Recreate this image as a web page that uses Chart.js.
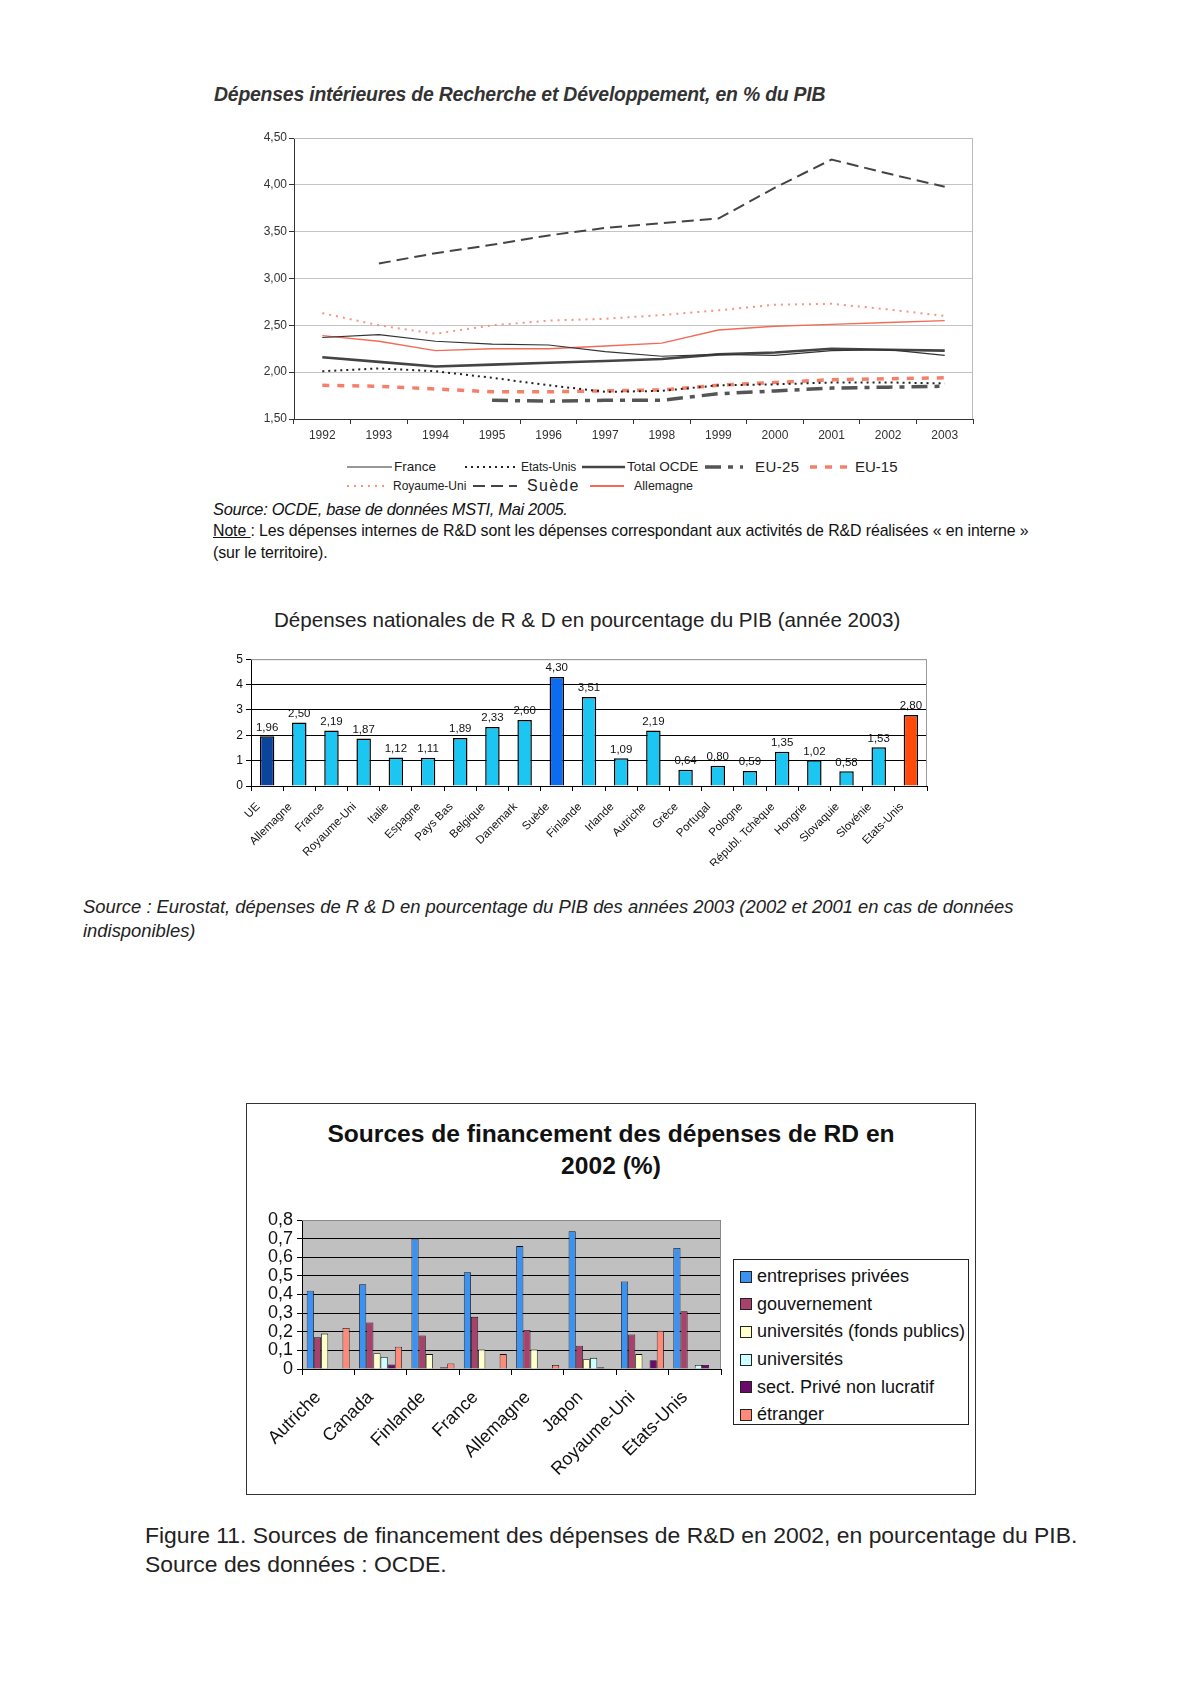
<!DOCTYPE html>
<html>
<head>
<meta charset="utf-8">
<script src="https://cdn.jsdelivr.net/npm/chart.js@4.4.1/dist/chart.umd.min.js"></script>
<style>
body { margin: 0; background: #fff; width: 1191px; height: 1684px; position: relative; font-family: "Liberation Sans", Arial, sans-serif; color: #111; }
.abs { position: absolute; white-space: nowrap; }
.box { position: absolute; }
.lg-sample { position: absolute; }
.lg-text { position: absolute; white-space: nowrap; color: #222; line-height: 18px; }
#legend3 { position: absolute; left: 733px; top: 1259px; width: 236px; height: 166px; border: 1px solid #222; font-size: 18px; color: #111; box-sizing: border-box; padding-top: 3px; }
#legend3 div { height: 27.6px; display: flex; align-items: center; padding-left: 6px; }
#legend3 span.sq { width: 10px; height: 10px; border: 1px solid #222; margin-right: 5px; display: inline-block; }
#frame3 { position: absolute; left: 246px; top: 1103px; width: 728px; height: 390px; border: 1px solid #333; }
</style>
</head>
<body>

<div class="abs" style="left:214px; top:82px; line-height:24px; font-size:19.4px; font-style:italic; font-weight:bold; color:#333; letter-spacing:-0.2px;">Dépenses intérieures de Recherche et Développement, en % du PIB</div>
<div class="box" style="left:244px; top:128px; width:740px; height:321px;"><canvas id="chart1"></canvas></div>
<div id="legend1"></div>
<div class="abs" style="left:213px; top:500px; line-height:18px; font-size:16.4px; font-style:italic; letter-spacing:-0.3px;">Source: OCDE, base de données MSTI, Mai 2005.</div>
<div class="abs" style="left:213px; top:522px; line-height:18px; font-size:15.9px; letter-spacing:-0.1px;"><u>Note </u>: Les dépenses internes de R&amp;D sont les dépenses correspondant aux activités de R&amp;D réalisées « en interne »</div>
<div class="abs" style="left:213px; top:544px; line-height:18px; font-size:15.9px; letter-spacing:-0.1px;">(sur le territoire).</div>

<div class="abs" style="left:274px; top:607px; line-height:26px; font-size:20.6px; color:#222;">Dépenses nationales de R &amp; D en pourcentage du PIB (année 2003)</div>
<div class="box" style="left:221px; top:649px; width:716px; height:217px;"><canvas id="chart2"></canvas></div>
<div class="abs" style="left:83px; top:896px; line-height:22px; font-size:18.4px; font-style:italic; color:#222;">Source : Eurostat, dépenses de R &amp; D en pourcentage du PIB des années 2003 (2002 et 2001 en cas de données</div>
<div class="abs" style="left:83px; top:920px; line-height:22px; font-size:18.4px; font-style:italic; color:#222;">indisponibles)</div>

<div id="frame3"></div>
<div class="abs" style="left:246px; width:730px; top:1118px; line-height:32px; font-size:24.6px; font-weight:bold; text-align:center; color:#111;">Sources de financement des dépenses de RD en<br>2002 (%)</div>
<div class="box" style="left:257px; top:1200px; width:474px; height:290px;"><canvas id="chart3"></canvas></div>
<div id="legend3"></div>

<div class="abs" style="left:145px; top:1521px; line-height:29px; font-size:22.9px; color:#222;">Figure 11. Sources de financement des dépenses de R&amp;D en 2002, en pourcentage du PIB.<br>Source des données : OCDE.</div>

<script>
// --- graphique 1 : DIRD en % du PIB
const years = ["1992", "1993", "1994", "1995", "1996", "1997", "1998", "1999", "2000", "2001", "2002", "2003"];
const france = [2.37, 2.40, 2.33, 2.30, 2.29, 2.22, 2.17, 2.19, 2.18, 2.23, 2.24, 2.18];
const etatsUnis = [2.01, 2.04, 2.01, 1.94, 1.86, 1.79, 1.80, 1.86, 1.87, 1.89, 1.89, 1.88];
const totalOcde = [2.16, 2.11, 2.06, 2.08, 2.10, 2.12, 2.14, 2.19, 2.21, 2.25, 2.24, 2.23];
const eu25 = [null, null, null, 1.70, 1.69, 1.70, 1.70, 1.77, 1.80, 1.83, 1.84, 1.85];
const eu15 = [1.86, 1.85, 1.82, 1.79, 1.79, 1.80, 1.81, 1.86, 1.89, 1.92, 1.93, 1.94];
const royaumeUni = [2.63, 2.50, 2.41, 2.50, 2.55, 2.57, 2.61, 2.66, 2.72, 2.73, 2.67, 2.60];
const suede = [null, 3.16, 3.27, 3.36, 3.46, 3.54, 3.59, 3.64, 3.97, 4.27, 4.12, 3.98];
const allemagne = [2.39, 2.33, 2.23, 2.25, 2.25, 2.28, 2.31, 2.45, 2.49, 2.51, 2.53, 2.55];

// --- graphique 2 : depenses nationales 2003
const pays2003 = ["UE", "Allemagne", "France", "Royaume-Uni", "Italie", "Espagne", "Pays Bas", "Belgique", "Danemark", "Suède", "Finlande", "Irlande", "Autriche", "Grèce", "Portugal", "Pologne", "Républ. Tchèque", "Hongrie", "Slovaquie", "Slovénie", "Etats-Unis"];
const depenses2003 = [1.96, 2.50, 2.19, 1.87, 1.12, 1.11, 1.89, 2.33, 2.60, 4.30, 3.51, 1.09, 2.19, 0.64, 0.80, 0.59, 1.35, 1.02, 0.58, 1.53, 2.80];

// --- graphique 3 : sources de financement 2002
const paysFin = ["Autriche", "Canada", "Finlande", "France", "Allemagne", "Japon", "Royaume-Uni", "Etats-Unis"];
const entreprises = [0.42, 0.455, 0.70, 0.52, 0.66, 0.74, 0.47, 0.65];
const gouvernement = [0.17, 0.25, 0.18, 0.28, 0.21, 0.125, 0.185, 0.31];
const univPublics = [0.19, 0.085, 0.08, 0.105, 0.105, 0.053, 0.08, 0];
const universites = [0, 0.065, 0, 0.003, 0.002, 0.06, 0.005, 0.022];
const prive = [0, 0.024, 0.01, 0.003, 0.002, 0.01, 0.047, 0.022];
const etranger = [0.22, 0.12, 0.03, 0.08, 0.022, 0.004, 0.205, 0];

Chart.defaults.font.family = "'Liberation Sans', Arial, sans-serif";
Chart.defaults.color = "#222";
Chart.defaults.animation = false;
Chart.defaults.plugins.legend.display = false;
Chart.defaults.plugins.tooltip.enabled = false;

const comma = (v, d) => v.toFixed(d).replace(".", ",");

// grey top/right edge of the plot area
const plotFrame = {
    id: "plotFrame",
    afterDraw(chart, args, opts) {
        const ctx = chart.ctx, a = chart.chartArea;
        ctx.save();
        ctx.strokeStyle = opts.color || "#aaa";
        ctx.lineWidth = 1;
        ctx.beginPath();
        ctx.moveTo(a.left, a.top + 0.5);
        ctx.lineTo(a.right - 0.5, a.top + 0.5);
        ctx.lineTo(a.right - 0.5, a.bottom);
        ctx.stroke();
        ctx.restore();
    }
};

const plotBg = {
    id: "plotBg",
    beforeDraw(chart, args, opts) {
        const ctx = chart.ctx, a = chart.chartArea;
        ctx.save();
        ctx.fillStyle = opts.color;
        ctx.fillRect(a.left, a.top, a.right - a.left, a.bottom - a.top);
        ctx.restore();
    }
};

const barValues = {
    id: "barValues",
    afterDatasetsDraw(chart) {
        const ctx = chart.ctx;
        const ds = chart.data.datasets[0];
        ctx.save();
        ctx.font = "11.5px 'Liberation Sans', Arial";
        ctx.fillStyle = "#111";
        ctx.textAlign = "center";
        ctx.textBaseline = "bottom";
        chart.getDatasetMeta(0).data.forEach((bar, i) => {
            ctx.fillText(comma(ds.data[i], 2), bar.x, bar.y - 3);
        });
        ctx.restore();
    }
};

// chart 1 (lx/sw/tx : legend sample start, sample width, text start)
const series1 = [
    { label: "France", data: france, color: "#333", width: 1.2, dash: [], row: 0, lx: 347, sw: 45, tx: 394, fs: 13.5 },
    { label: "Etats-Unis", data: etatsUnis, color: "#222", width: 2, dash: [2, 4], row: 0, lx: 465, sw: 52, tx: 521, fs: 12 },
    { label: "Total OCDE", data: totalOcde, color: "#444", width: 2.6, dash: [], row: 0, lx: 582, sw: 43, tx: 627, fs: 13.5 },
    { label: "EU-25", data: eu25, color: "#555", width: 3.5, dash: [16, 7, 5, 7], row: 0, lx: 705, sw: 38, tx: 755, fs: 15, ls: 0.4 },
    { label: "EU-15", data: eu15, color: "#f4806c", width: 3.5, dash: [7, 8], row: 0, lx: 810, sw: 42, tx: 855, fs: 15, ls: 0 },
    { label: "Royaume-Uni", data: royaumeUni, color: "#f59484", width: 2, dash: [2, 5], row: 1, lx: 347, sw: 40, tx: 393, fs: 12 },
    { label: "Suède", data: suede, color: "#444", width: 2, dash: [12, 6], row: 1, lx: 473, sw: 44, tx: 527, fs: 16, ls: 1.3 },
    { label: "Allemagne", data: allemagne, color: "#f26a58", width: 2, dash: [], row: 1, lx: 590, sw: 34, tx: 634, fs: 12.5 }
];

new Chart(document.getElementById("chart1"), {
    type: "line",
    data: {
        labels: years,
        datasets: series1.map(s => ({
            label: s.label,
            data: s.data,
            borderColor: s.color,
            borderWidth: s.label === "Allemagne" ? 1.4 : s.width,
            borderDash: s.dash,
            pointRadius: 0,
            tension: 0,
            fill: false
        }))
    },
    options: {
        responsive: true,
        maintainAspectRatio: false,
        layout: { padding: { top: 10, right: 11, left: 0, bottom: 0 } },
        scales: {
            x: {
                offset: true,
                grid: { offset: true, drawOnChartArea: false, tickLength: 5, color: "#333" },
                border: { color: "#333" },
                ticks: { font: { size: 12 }, color: "#333", padding: 4, maxRotation: 0 },
                afterFit: s => { s.height = 30; }
            },
            y: {
                min: 1.5,
                max: 4.5,
                ticks: { stepSize: 0.5, font: { size: 12 }, color: "#333", padding: 2, callback: v => comma(v, 2) },
                grid: { color: "#c4c4c4", tickColor: "#333", tickLength: 5 },
                border: { color: "#333" },
                afterFit: s => { s.width = 50; }
            }
        },
        plugins: { plotFrame: { color: "#bbb" } }
    },
    plugins: [plotFrame]
});

// html legend, with the line styles of the datasets
const rowY = [467, 486];
document.getElementById("legend1").innerHTML = series1.map(s => {
    const y = rowY[s.row];
    const dash = s.dash.length ? s.dash.join(" ") : "none";
    return '<svg class="lg-sample" style="left:' + s.lx + 'px; top:' + (y - 5) + 'px" width="' + s.sw + '" height="10">' +
        '<line x1="0" y1="5" x2="' + s.sw + '" y2="5" stroke="' + s.color + '" stroke-width="' + s.width + '" stroke-dasharray="' + dash + '"/></svg>' +
        '<div class="lg-text" style="left:' + s.tx + 'px; top:' + (y - 9) + 'px; font-size:' + s.fs + 'px; letter-spacing:' + (s.ls || 0) + 'px">' + s.label + '</div>';
}).join("");

// chart 2
const barColors2 = pays2003.map(p => p === "UE" ? "#0a449c" : p === "Suède" ? "#0b6cf0" : p === "Etats-Unis" ? "#ff4a0a" : "#1cc6f2");

new Chart(document.getElementById("chart2"), {
    type: "bar",
    data: {
        labels: pays2003,
        datasets: [{
            data: depenses2003,
            backgroundColor: barColors2,
            borderColor: "#000",
            borderWidth: 1.5,
            categoryPercentage: 1,
            barPercentage: 0.45
        }]
    },
    options: {
        responsive: true,
        maintainAspectRatio: false,
        layout: { padding: { top: 10, right: 10, left: 0, bottom: 0 } },
        scales: {
            x: {
                grid: { offset: true, drawOnChartArea: false, tickLength: 5, color: "#000" },
                border: { color: "#000" },
                ticks: { font: { size: 11.5 }, color: "#111", minRotation: 45, maxRotation: 45, padding: 9, labelOffset: -9, autoSkip: false },
                afterFit: s => { s.height = 80; }
            },
            y: {
                min: 0,
                max: 5,
                ticks: { stepSize: 1, font: { size: 12 }, color: "#111", padding: 3 },
                grid: { color: c => c.tick.value === 5 ? "#aaa" : "#000", tickColor: "#000", tickLength: 5 },
                border: { color: "#000" },
                afterFit: s => { s.width = 30; }
            }
        },
        plugins: { plotFrame: { color: "#999" } }
    },
    plugins: [plotFrame, barValues]
});

// chart 3
const series3 = [
    { label: "entreprises privées", data: entreprises, color: "#3c92f0" },
    { label: "gouvernement", data: gouvernement, color: "#a8416b" },
    { label: "universités (fonds publics)", data: univPublics, color: "#ffffcc" },
    { label: "universités", data: universites, color: "#ccffff" },
    { label: "sect. Privé non lucratif", data: prive, color: "#6a0a6a" },
    { label: "étranger", data: etranger, color: "#ff8a7a" }
];

new Chart(document.getElementById("chart3"), {
    type: "bar",
    data: {
        labels: paysFin,
        datasets: series3.map(s => ({
            label: s.label,
            data: s.data,
            backgroundColor: s.color,
            borderColor: "#111",
            borderWidth: 0.8,
            categoryPercentage: 0.82,
            barPercentage: 1
        }))
    },
    options: {
        responsive: true,
        maintainAspectRatio: false,
        layout: { padding: { top: 20, right: 10, left: 0, bottom: 0 } },
        scales: {
            x: {
                grid: { offset: true, drawOnChartArea: false, tickLength: 6, color: "#000" },
                border: { color: "#000" },
                ticks: { font: { size: 18 }, color: "#111", minRotation: 45, maxRotation: 45, padding: 12, labelOffset: -10, autoSkip: false },
                afterFit: s => { s.height = 121; }
            },
            y: {
                min: 0,
                max: 0.8,
                ticks: { stepSize: 0.1, autoSkip: false, font: { size: 18 }, color: "#111", padding: 4, callback: v => v === 0 ? "0" : comma(v, 1) },
                grid: { color: c => c.index === 8 ? "#888" : "#000", tickColor: "#000", tickLength: 5 },
                border: { color: "#000" },
                afterFit: s => { s.width = 45; }
            }
        },
        plugins: { plotBg: { color: "#c0c0c0" }, plotFrame: { color: "#888" } }
    },
    plugins: [plotBg, plotFrame]
});

document.getElementById("legend3").innerHTML = series3.map(s =>
    '<div><span class="sq" style="background:' + s.color + '"></span>' + s.label + '</div>'
).join("");
</script>
</body>
</html>
